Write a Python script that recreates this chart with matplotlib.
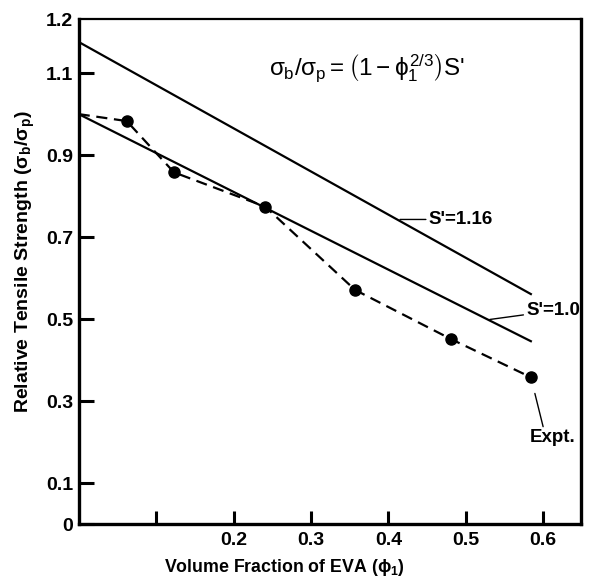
import matplotlib.pyplot as plt
import numpy as np

plt.rcParams['font.family'] = ['Liberation Sans', 'DejaVu Sans']
plt.rcParams['mathtext.fontset'] = 'custom'
plt.rcParams['mathtext.rm'] = 'Liberation Sans'
plt.rcParams['mathtext.it'] = 'Liberation Sans'
plt.rcParams['mathtext.bf'] = 'Liberation Sans:bold'

# experimental points (volume fraction of EVA vs relative tensile strength)
phi_expt = [0.0, 0.062, 0.123, 0.241, 0.357, 0.481, 0.584]
rel_expt = [1.0, 0.983, 0.858, 0.774, 0.571, 0.451, 0.358]

# model lines, S' = 1.0 and S' = 1.16
phi_line = [0.0, 0.584]
rel_s100 = [1.0, 0.446]
rel_s116 = [1.176, 0.561]

xtick_vals = [0.1, 0.2, 0.3, 0.4, 0.5, 0.6]
xtick_labels = ['', '0.2', '0.3', '0.4', '0.5', '0.6']
ytick_vals = [0, 0.1, 0.3, 0.5, 0.7, 0.9, 1.1, 1.232]
ytick_labels = ['0', '0.1', '0.3', '0.5', '0.7', '0.9', '1.1', '1.2']

fig = plt.figure(figsize=(6.15, 5.78), dpi=100)
ax = fig.add_axes([0.128, 0.0934, 0.817, 0.8737])

ax.plot(phi_line, rel_s116, color='black', lw=1.6)
ax.plot(phi_line, rel_s100, color='black', lw=1.6)
ax.plot(phi_expt, rel_expt, color='black', lw=1.6, ls=(0, (5, 3)))
ax.plot(phi_expt[1:], rel_expt[1:], 'o', color='black', ms=8, mec='black')

ax.set_xlim(0, 0.649)
ax.set_ylim(0, 1.232)

ax.set_xticks(xtick_vals)
ax.set_xticklabels(xtick_labels)
ax.set_yticks(ytick_vals)
ax.set_yticklabels(ytick_labels)
ax.yaxis.get_major_ticks()[-1].tick1line.set_visible(False)

ax.tick_params(axis='both', direction='in', width=2.2, labelsize=14, color='black')
ax.tick_params(axis='y', length=11, pad=4)
ax.tick_params(axis='x', length=9.5, pad=6)
for lab in ax.get_xticklabels() + ax.get_yticklabels():
    lab.set_fontweight('bold')

for side in ['left', 'bottom', 'right']:
    ax.spines[side].set_linewidth(2.4)
ax.spines['top'].set_linewidth(1.6)

ax.set_xlabel(r'Volume Fraction of EVA ($\mathbf{\phi_1}$)', fontsize=12.8,
              fontweight='bold', va='center')
ax.xaxis.set_label_coords(0.41, -0.087)
ax.set_ylabel(r'Relative Tensile Strength ($\mathbf{\sigma_b/\sigma_p}$)', fontsize=14,
              fontweight='bold', va='center')
ax.yaxis.set_label_coords(-0.107, 0.52)

# equation
ax.text(0.373, 1.113, r"$\sigma_b/\sigma_p = \left(1-\phi_1^{2/3}\right)$S'",
        fontsize=17.5, ha='center', va='center')

# annotations with leader lines
ax.annotate("S'=1.16", xy=(0.415, 0.743), xytext=(0.452, 0.743),
            fontsize=13.5, fontweight='bold', ha='left', va='center',
            arrowprops=dict(arrowstyle='-', color='black', lw=1,
                            shrinkA=0, shrinkB=0))
ax.annotate("S'=1.0", xy=(0.531, 0.499), xytext=(0.578, 0.52),
            fontsize=13.5, fontweight='bold', ha='left', va='center',
            arrowprops=dict(arrowstyle='-', color='black', lw=1,
                            shrinkA=0, shrinkB=0))
ax.annotate("Expt.", xy=(phi_expt[-1], rel_expt[-1]), xytext=(0.583, 0.21),
            fontsize=13.5, fontweight='bold', ha='left', va='center',
            arrowprops=dict(arrowstyle='-', color='black', lw=1,
                            shrinkA=0, shrinkB=12, relpos=(0.3, 1.0)))

fig.savefig('out.png', dpi=100)
